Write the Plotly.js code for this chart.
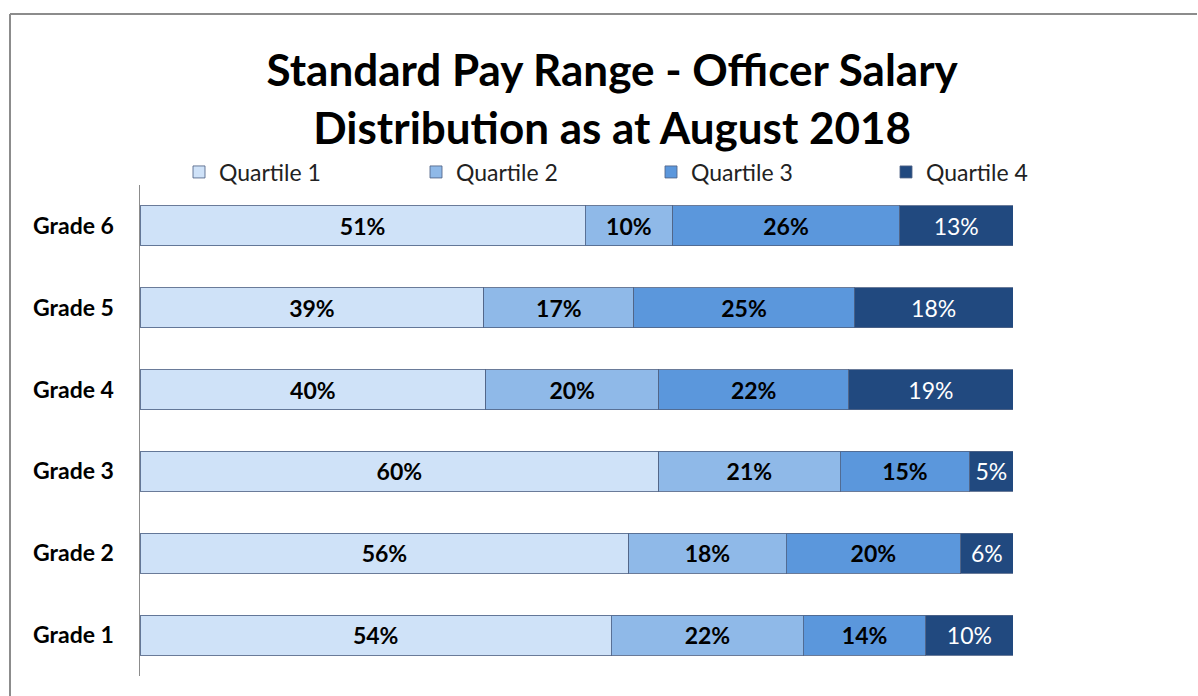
<!DOCTYPE html>
<html>
<head>
<meta charset="utf-8">
<script src="https://cdn.plot.ly/plotly-3.0.1.min.js"></script>
<style>html,body{margin:0;padding:0;background:#fff;}#chart{width:1198px;height:696px;}</style>
</head>
<body>
<div id="chart"></div>
<script>
const grades = ["Grade 1", "Grade 2", "Grade 3", "Grade 4", "Grade 5", "Grade 6"];
const quartile1 = [54, 56, 60, 40, 39, 51];
const quartile2 = [22, 18, 21, 20, 17, 10];
const quartile3 = [14, 20, 15, 22, 25, 26];
const quartile4 = [10, 6, 5, 19, 18, 13];
const seriesNames = ["Quartile 1", "Quartile 2", "Quartile 3", "Quartile 4"];

const series = [quartile1, quartile2, quartile3, quartile4];
const colors = ["#cfe2f8", "#8fb9e8", "#5b97dc", "#21497f"];
const textColors = ["#000000", "#000000", "#000000", "#ffffff"];
const textWeights = ["bold", "bold", "bold", "normal"];
const legendIds = ["legend", "legend2", "legend3", "legend4"];
const legendX = [179, 416, 651, 886];
const FONT = "Lato, 'Open Sans', sans-serif";

const traces = series.map((vals, i) => ({
  type: "bar",
  orientation: "h",
  name: seriesNames[i],
  legend: legendIds[i],
  y: grades,
  x: vals,
  text: vals.map(v => v + "%"),
  textposition: "inside",
  insidetextanchor: "middle",
  constraintext: "none",
  textfont: {family: FONT, size: 23, color: textColors[i], weight: textWeights[i]},
  hoverinfo: "none",
  marker: {color: colors[i], line: {color: "rgba(80,100,135,0.85)", width: 1}},
  width: 0.49
}));

const layout = {
  width: 1198,
  height: 696,
  paper_bgcolor: "#ffffff",
  plot_bgcolor: "#ffffff",
  barmode: "stack",
  barnorm: "percent",
  margin: {l: 140, r: 185, t: 185, b: 20, autoexpand: false},
  title: {
    text: "<b>Standard Pay Range - Officer Salary<br>Distribution as at August 2018</b>",
    font: {family: FONT, size: 44, color: "#000000"},
    x: 0.511, xref: "container", xanchor: "center",
    y: 0.876, yref: "container", yanchor: "top"
  },
  showlegend: true,
  xaxis: {range: [0, 100], visible: false, fixedrange: true},
  yaxis: {
    type: "category",
    categoryorder: "array",
    categoryarray: grades,
    showline: true, linecolor: "#8c8c8c", linewidth: 1.5,
    showgrid: false, zeroline: false,
    ticks: "", ticklabelstandoff: 20,
    tickfont: {family: FONT, size: 23, color: "#000000", weight: "bold"}
  },
  shapes: [
    {type: "line", xref: "paper", yref: "paper", x0: -130/873, x1: 1197/873 - 140/873, y0: 1 + 171/491, y1: 1 + 171/491, line: {color: "#8c8c8c", width: 2}},
    {type: "line", xref: "paper", yref: "paper", x0: -130/873, x1: -130/873, y0: 1 + 171/491, y1: -20/491, line: {color: "#8c8c8c", width: 2}}
  ]
};

legendIds.forEach((id, i) => {
  layout[id] = {
    orientation: "h",
    x: legendX[i] / 1198, xref: "container", xanchor: "left",
    y: 1 - 172 / 696, yref: "container", yanchor: "middle",
    itemwidth: 30,
    bgcolor: "rgba(0,0,0,0)",
    font: {family: FONT, size: 23, color: "#222222"}
  };
});

Plotly.newPlot("chart", traces, layout, {displayModeBar: false, staticPlot: true});
</script>
</body>
</html>
